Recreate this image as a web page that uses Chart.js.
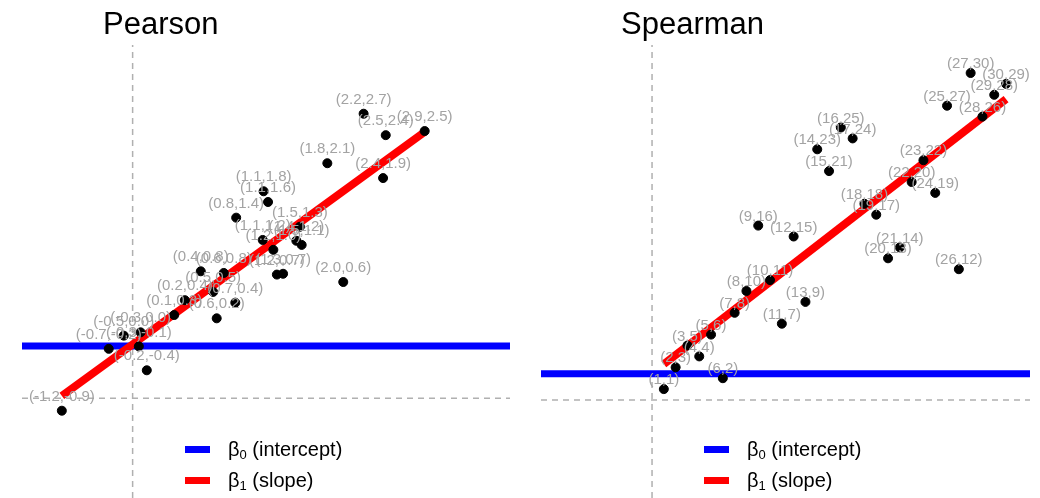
<!DOCTYPE html>
<html>
<head>
<meta charset="utf-8">
<script src="https://cdn.jsdelivr.net/npm/chart.js@4/dist/chart.umd.min.js"></script>
<style>
  body { margin: 0; background: #fff; font-family: "Liberation Sans", Arial, sans-serif; }
  #wrap { position: relative; width: 1040px; height: 498px; overflow: hidden; }
  canvas { position: absolute; top: 0; }
  .title { position: absolute; top: 6px; font-size: 31px; color: #000; }
  .legend { position: absolute; top: 437px; font-size: 20px; color: #000; }
  .legend div { height: 31px; position: relative; }
  .legend span.sw { position: absolute; left: 0; top: 9px; width: 25px; height: 7px; }
  .legend span.tx { position: absolute; left: 43px; top: 1px; white-space: nowrap; }
  .legend sub { font-size: 13px; vertical-align: -3px; }
</style>
</head>
<body>
<div id="wrap">
  <canvas id="pearson" width="520" height="498" style="left:0"></canvas>
  <canvas id="spearman" width="520" height="498" style="left:520px"></canvas>
  <div class="title" style="left:103px">Pearson</div>
  <div class="title" style="left:621px">Spearman</div>
  <div class="legend" style="left:185px">
    <div><span class="sw" style="background:#0000ff"></span><span class="tx">β<sub>0</sub> (intercept)</span></div>
    <div><span class="sw" style="background:#ff0000"></span><span class="tx">β<sub>1</sub> (slope)</span></div>
  </div>
  <div class="legend" style="left:704px">
    <div><span class="sw" style="background:#0000ff"></span><span class="tx">β<sub>0</sub> (intercept)</span></div>
    <div><span class="sw" style="background:#ff0000"></span><span class="tx">β<sub>1</sub> (slope)</span></div>
  </div>
</div>
<script>
// Pearson panel: raw values
const pearsonX = [-1.20, -0.67, -0.50, -0.33, -0.31, -0.24, 0.07, 0.19, 0.37, 0.51, 0.55, 0.63, 0.76, 0.77,
  1.07, 1.08, 1.13, 1.19, 1.23, 1.30, 1.45, 1.49, 1.51, 1.80, 1.98, 2.21, 2.43, 2.46, 2.90];
const pearsonY = [-0.90, -0.15, 0.01, -0.12, 0.05, -0.41, 0.26, 0.44, 0.79, 0.54, 0.22, 0.77, 0.41, 1.44,
  1.17, 1.76, 1.63, 1.05, 0.75, 0.76, 1.16, 1.33, 1.11, 2.10, 0.66, 2.70, 1.92, 2.44, 2.49];
const pearsonLabels = ['(-1.2,-0.9)', '(-0.7,-0.2)', '(-0.5,0.0)', '(-0.3,-0.1)', '(-0.3,0.0)', '(-0.2,-0.4)',
  '(0.1,0.3)', '(0.2,0.4)', '(0.4,0.8)', '(0.5,0.5)', '(0.6,0.2)', '(0.6,0.8)', '(0.7,0.4)', '(0.8,1.4)',
  '(1.1,1.2)', '(1.1,1.8)', '(1.1,1.6)', '(1.2,1.0)', '(1.2,0.7)', '(1.3,0.7)', '(1.4,1.2)', '(1.5,1.3)',
  '(1.5,1.1)', '(1.8,2.1)', '(2.0,0.6)', '(2.2,2.7)', '(2.4,1.9)', '(2.5,2.4)', '(2.9,2.5)'];
const pearsonFitX = [-1.2, 2.9];
const pearsonFitY = [-0.72, 2.48];
const pearsonIntercept = -0.115;
const pearsonZero = [-0.4, -0.75];   // where the dashed reference lines sit

// Spearman panel: ranks
const spearmanX = [1, 2, 3, 4, 5, 6, 7, 8, 9, 10, 11, 12, 13, 14, 15,
  16, 17, 18, 19, 20, 21, 22, 23, 24, 25, 26, 27, 28, 29, 30];
const spearmanY = [1, 3, 5, 4, 6, 2, 8, 10, 16, 11, 7, 15, 9, 23, 21,
  25, 24, 18, 17, 13, 14, 20, 22, 19, 27, 12, 30, 26, 28, 29];
const spearmanFitX = [1, 30];
const spearmanFitY = [3.3, 27.6];
const spearmanIntercept = 2.4;
const spearmanZero = [0, 0];

const pointLabels = {
  id: 'pointLabels',
  afterDatasetsDraw(chart, args, opts) {
    const ctx = chart.ctx;
    const meta = chart.getDatasetMeta(0);
    ctx.save();
    ctx.font = '15px "Liberation Sans", Arial, sans-serif';
    ctx.fillStyle = '#a3a3a3';
    ctx.textAlign = 'center';
    ctx.textBaseline = 'middle';
    meta.data.forEach((el, i) => {
      ctx.fillText(opts.labels[i], el.x, el.y - opts.lift);
    });
    ctx.restore();
  }
};

function makePanel(id, xs, ys, labels, fitX, fitY, b0, zero, range, pad, lift) {
  const pts = xs.map((x, i) => ({ x: x, y: ys[i] }));
  new Chart(document.getElementById(id), {
    type: 'scatter',
    data: {
      datasets: [
        { data: pts, backgroundColor: '#000', borderColor: '#000', pointRadius: 4.5, order: 1 },
        { data: fitX.map((x, i) => ({ x: x, y: fitY[i] })), showLine: true, borderColor: '#ff0000',
          borderWidth: 8, pointRadius: 0, order: 2 },
        { data: [{ x: range[0], y: b0 }, { x: range[1], y: b0 }], showLine: true, borderColor: '#0000ff',
          borderWidth: 7, pointRadius: 0, order: 3 },
        { data: [{ x: zero[0], y: range[2] }, { x: zero[0], y: range[3] }], showLine: true, borderColor: '#b0b0b0',
          borderWidth: 1.5, borderDash: [6, 5], pointRadius: 0, order: 4 },
        { data: [{ x: range[0], y: zero[1] }, { x: range[1], y: zero[1] }], showLine: true, borderColor: '#b0b0b0',
          borderWidth: 1.5, borderDash: [6, 5], pointRadius: 0, order: 4 }
      ]
    },
    options: {
      responsive: false,
      animation: false,
      layout: { padding: pad, autoPadding: false },
      scales: {
        x: { type: 'linear', display: false, min: range[0], max: range[1] },
        y: { type: 'linear', display: false, min: range[2], max: range[3] }
      },
      plugins: {
        legend: { display: false },
        tooltip: { enabled: false },
        pointLabels: { labels: labels, lift: lift }
      }
    },
    plugins: [pointLabels]
  });
}

makePanel('pearson', pearsonX, pearsonY, pearsonLabels, pearsonFitX, pearsonFitY, pearsonIntercept, pearsonZero,
  [-1.65, 3.864, -1.958, 3.533], { left: 22, right: 10, top: 45, bottom: 0 }, 14);

makePanel('spearman', spearmanX, spearmanY, spearmanX.map((x, i) => '(' + x + ',' + spearmanY[i] + ')'),
  spearmanFitX, spearmanFitY, spearmanIntercept, spearmanZero,
  [-9.41, 32.03, -8.99, 32.57], { left: 21, right: 10, top: 45, bottom: 0 }, 9);
</script>
</body>
</html>
